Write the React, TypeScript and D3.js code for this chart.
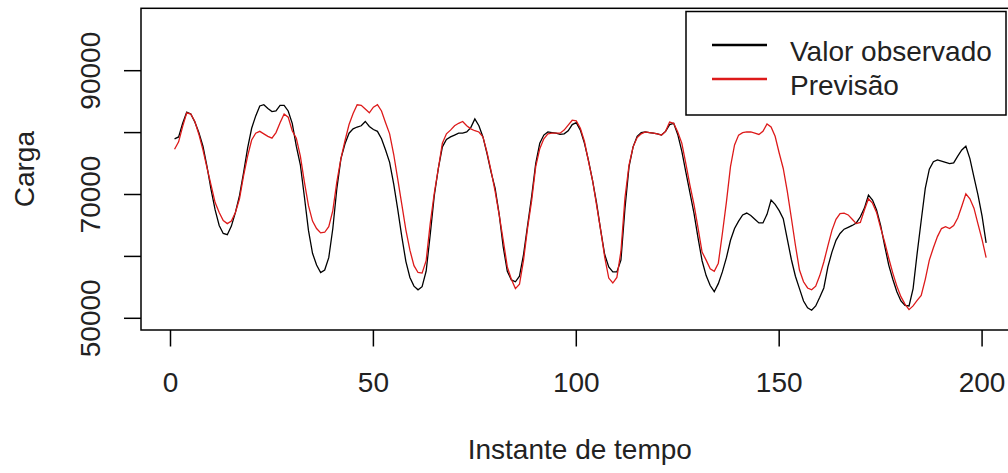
import React, { useEffect } from "react";
import * as d3 from "d3";

const observado: number[] = [
  79000, 79300, 81500, 83300, 83000, 81700, 80000, 77800, 74500, 70800,
  67500, 65000, 63700, 63500, 64900, 67100, 69800, 73500, 77500, 80700,
  82700, 84300, 84500, 83900, 83400, 83500, 84400, 84400, 83500, 81500,
  77800, 74800, 69600, 64200, 60500, 58600, 57400, 57800, 59800, 64500,
  71000, 75800, 78200, 79900, 80600, 80900, 81100, 81800, 81000, 80500,
  80200, 79000, 77200, 75200, 71700, 67600, 63200, 59200, 56600, 55200,
  54600, 55100, 57600, 63500, 69800, 74200, 77700, 78900, 79300, 79600,
  79900, 79900, 80100, 80800, 82200, 81100, 79300, 76600, 73600, 71000,
  66800, 61500, 57600, 56200, 55900, 56800, 60300, 65000, 69700, 75000,
  78300, 79600, 80100, 80000, 79900, 79700, 79800, 80300, 81300, 81600,
  80400, 78300, 75500, 72300, 68600, 64300, 60300, 58300, 57500, 57500,
  59400, 67800, 74500, 77700, 79400, 80000, 80100, 80000, 79900, 79800,
  79600, 80200, 81300, 81500, 79700, 77000, 73600, 70300, 67000, 63000,
  59300, 56900, 55300, 54300, 55600, 57500, 59800, 62600, 64500, 65700,
  66700, 67000, 66600, 66000, 65400, 65400, 66800, 69100, 68400, 67400,
  66100, 62800, 59500, 56800, 54800, 52800, 51700, 51300, 52000, 53400,
  54900, 58300, 60700, 62600, 63700, 64400, 64700, 65000, 65400, 66400,
  67800, 69900, 69100, 67500, 65000, 61700, 58600, 56300, 54300, 52800,
  52100, 52000, 54800, 60500, 65800, 71000, 74100, 75300, 75600, 75400,
  75200, 75000, 75100, 76200, 77200, 77800, 75800, 72800, 69900, 66500,
  62200,
];

const previsao: number[] = [
  77300, 78500, 81000, 83200, 83000, 81800, 79700, 77200, 74300, 71500,
  68700, 67100, 65800, 65300, 65700, 67100, 69300, 73000, 76200, 78800,
  79900, 80200, 79800, 79400, 79100, 80000, 81600, 83000, 82500, 80300,
  79100, 76200, 72000, 68200, 65700, 64500, 63800, 63900, 64800, 67400,
  72100, 75800, 78700, 81300, 83100, 84500, 84400, 83800, 83200, 84100,
  84500, 83500, 81600, 79800, 76500, 72500, 68400, 64300, 61000, 58500,
  57400, 57300, 59300, 65300, 70200, 74200, 78300, 79800, 80400, 81100,
  81500, 81800, 81100, 80600, 80300, 80100, 79300, 76800, 73800, 70500,
  66700, 62600, 58300, 56300, 54800, 55500, 59400, 64600, 69000, 74500,
  77400, 79000, 79800, 79900, 79900, 79900, 80400, 81200, 82000, 81900,
  80700, 78600, 75400, 72300, 68300, 64300, 59900, 56500, 55700, 56600,
  60800, 69500, 74800, 77700, 79200, 79800, 80100, 80000, 79900, 79800,
  79600, 80200, 81700, 81500, 80100, 78300, 75000, 71500, 68400, 64600,
  60700, 59400, 58000, 57600, 58900, 63700, 68800, 74500, 78000, 79600,
  80000, 80100, 80100, 79900, 79700, 80200, 81400, 80900, 79400, 76700,
  74200, 70500, 66200, 61800, 57800, 55900, 54900, 54600, 55200, 56900,
  59100, 61700, 64200, 66000, 66900, 67000, 66700, 66000, 65300, 65500,
  67500, 69300, 68600, 67100, 64600, 62300, 59700, 57300, 55200, 53500,
  52300, 51400, 52000, 52900, 53700, 56300, 59400, 61400, 63200, 64500,
  64800, 64500, 65000, 66200, 68100, 70100, 69300, 67800, 65200, 62700,
  59800,
];

const xTicks: number[] = [0, 50, 100, 150, 200];
const yTicks: number[] = [50000, 60000, 70000, 80000, 90000];
const yTickLabels: number[] = [50000, 70000, 90000];
const legendLabels: string[] = ["Valor observado", "Previsão"];
const seriesColors: string[] = ["#000000", "#dd1a1a"];

const FONT = "'Liberation Sans', Arial, Helvetica, sans-serif";

export default function App() {
  useEffect(() => {
    document.body.style.margin = "0";
  }, []);

  const W = 1008;
  const H = 473;
  const left = 141;
  const right = 1018.6;
  const top = 8.3;
  const bottom = 330;

  const x = d3.scaleLinear().domain([-7.27, 209]).range([left, right]);
  const y = d3.scaleLinear().domain([48110, 100080]).range([bottom, top]);

  const line = d3
    .line<number>()
    .x((_, i) => x(i + 1))
    .y((d) => y(d));

  const fs = 28;

  return (
    <svg
      width={W}
      height={H}
      style={{ position: "absolute", left: 0, top: 0, background: "#fff" }}
      fontFamily={FONT}
    >
      <rect x={0} y={0} width={W} height={H} fill="#fff" />
      <defs>
        <clipPath id="plotclip">
          <rect x={left} y={top} width={right - left} height={bottom - top} />
        </clipPath>
      </defs>
      <g clipPath="url(#plotclip)">
        <path d={line(observado) || ""} fill="none" stroke={seriesColors[0]} strokeWidth={1.3} />
        <path d={line(previsao) || ""} fill="none" stroke={seriesColors[1]} strokeWidth={1.3} />
      </g>
      <rect
        x={left}
        y={top}
        width={right - left}
        height={bottom - top}
        fill="none"
        stroke="#000"
        strokeWidth={1.5}
      />
      {xTicks.map((t) => (
        <g key={"x" + t}>
          <line x1={x(t)} x2={x(t)} y1={bottom} y2={bottom + 16.5} stroke="#000" strokeWidth={1.5} />
          <text x={x(t)} y={392} textAnchor="middle" fontSize={fs} fill="#222">
            {t}
          </text>
        </g>
      ))}
      {yTicks.map((t) => (
        <line key={"y" + t} x1={left - 17} x2={left} y1={y(t)} y2={y(t)} stroke="#000" strokeWidth={1.5} />
      ))}
      {yTickLabels.map((t) => (
        <text
          key={"yl" + t}
          transform={`translate(100,${y(t)}) rotate(-90)`}
          textAnchor="middle"
          fontSize={fs}
          fill="#222"
        >
          {t}
        </text>
      ))}
      <text x={(left + right) / 2} y={459} textAnchor="middle" fontSize={fs} fill="#222">
        Instante de tempo
      </text>
      <text
        transform={`translate(34,${(top + bottom) / 2}) rotate(-90)`}
        textAnchor="middle"
        fontSize={fs}
        fill="#222"
      >
        Carga
      </text>
      <rect x={686} y={11.5} width={320} height={103.5} fill="#fff" stroke="#000" strokeWidth={1.5} />
      {legendLabels.map((lab, i) => (
        <g key={lab}>
          <line
            x1={712}
            x2={767}
            y1={45 + i * 34}
            y2={45 + i * 34}
            stroke={seriesColors[i]}
            strokeWidth={2.5}
          />
          <text x={790} y={61 + i * 33.5} fontSize={fs} fill="#222">
            {lab}
          </text>
        </g>
      ))}
    </svg>
  );
}
